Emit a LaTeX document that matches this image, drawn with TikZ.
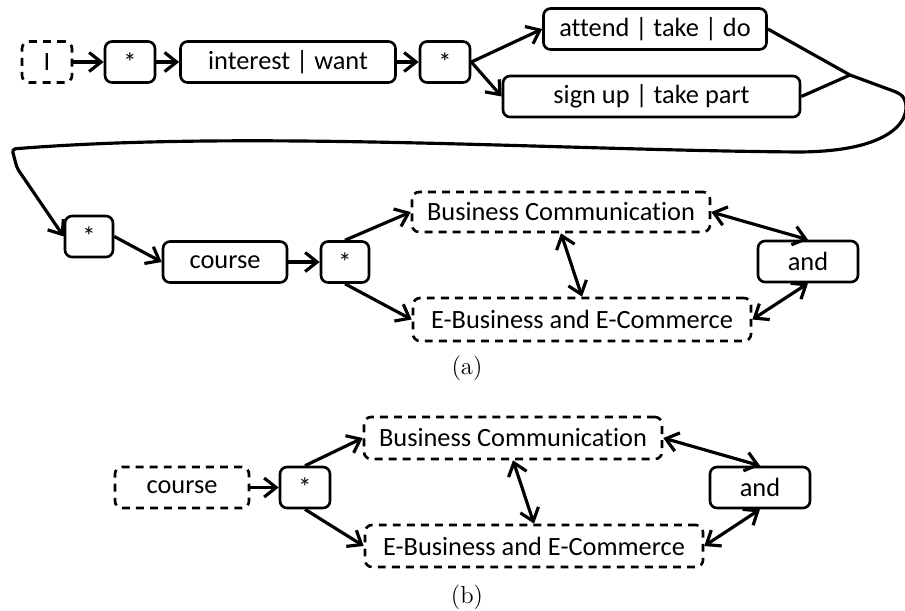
\documentclass[tikz,border=0pt]{standalone}
\usepackage{fontspec}
\usepackage{tikz}
\usetikzlibrary{arrows.meta, positioning}
\newfontfamily\carlito{Carlito}[Ligatures={NoCommon}]

\begin{document}
\begin{tikzpicture}[
  every node/.style={font=\carlito\fontsize{15}{18}\selectfont},
  wordbox/.style={rectangle, rounded corners=4pt, draw, line width=1.5pt, minimum width=#1, minimum height=8.2mm, inner sep=1pt, align=center},
  optbox/.style={wordbox=#1, dash pattern=on 4.5pt off 3.5pt},
  link/.style={line width=1.8pt, -{Straight Barb[length=2.4mm, width=3.8mm]}},
  twolink/.style={line width=1.8pt, {Straight Barb[length=2.4mm, width=3.8mm]}-{Straight Barb[length=2.4mm, width=3.8mm]}},
]
\useasboundingbox (0, 0) rectangle (18.1, -12.2);

% (a) first row
\node[optbox=10mm] (i) at (0.94, -1.24) {I};
\node[wordbox=10mm] (s1) at (2.6, -1.24) {*};
\node[wordbox=43mm] (want) at (5.76, -1.24) {interest | want};
\node[wordbox=10mm] (s2) at (8.9, -1.24) {*};
\node[wordbox=44.6mm] (take) at (13.1, -0.58) {attend | take | do};
\node[wordbox=59.4mm] (part) at (13.03, -1.93) {sign up | take part};
\coordinate (join) at (17.0, -1.5);

\draw[link] (i) -- (s1);
\draw[link] (s1) -- (want);
\draw[link] (want) -- (s2);
\draw[link] (s2.east) -- (take.west);
\draw[link] (s2.east) -- (part.west);
\draw[line width=1.8pt] (take.east) -- (join);
\draw[line width=1.8pt] (part.east) -- (join);

% (a) second row
\node[wordbox=9.6mm] (s3) at (1.78, -4.73) {*};
\node[wordbox=24.8mm] (course) at (4.5, -5.24) {course};
\node[wordbox=9.6mm] (s4) at (6.9, -5.24) {*};
\node[optbox=59.6mm, minimum height=8mm] (bca) at (11.22, -4.24) {Business Communication};
\node[optbox=67.6mm, minimum height=8.6mm] (eba) at (11.64, -6.39) {E-Business and E-Commerce};
\node[wordbox=20mm] (anda) at (16.16, -5.23) {and};

% Wrap-around connector
\draw[link, rounded corners=2pt] (join) -- (17.95, -1.85) .. controls (18.25, -2.05) and (18.3, -3.0) .. (16.0, -3.04) .. controls (11, -3.0) and (5, -2.6) .. (0.24, -2.98) -- (0.34, -3.36) -- (s3.west);

\draw[link] (s3.east) -- (course.west);
\draw[link] (course) -- (s4);
\draw[link] (s4.north) -- (bca.west);
\draw[link] (s4.south) -- (eba.west);
\draw[twolink] (bca.south) -- (eba.north);
\draw[twolink] (bca.east) -- (anda.north);
\draw[twolink] (eba.east) -- (anda.south);

\node[font=\fontsize{14}{16}\selectfont] (capa) at (9.34, -7.36) {(a)};

% (b)
\node[optbox=26.8mm] (courseb) at (3.64, -9.75) {course};
\node[wordbox=10mm] (sb) at (6.1, -9.75) {*};
\node[optbox=59.6mm, minimum height=8.4mm] (bcb) at (10.26, -8.76) {Business Communication};
\node[optbox=67.6mm, minimum height=8.4mm] (ebb) at (10.68, -10.92) {E-Business and E-Commerce};
\node[wordbox=20mm] (andb) at (15.2, -9.75) {and};

\draw[link] (courseb) -- (sb);
\draw[link] (sb.north) -- (bcb.west);
\draw[link] (sb.south) -- (ebb.west);
\draw[twolink] (bcb.south) -- (ebb.north);
\draw[twolink] (bcb.east) -- (andb.north);
\draw[twolink] (ebb.east) -- (andb.south);

\node[font=\fontsize{14}{16}\selectfont] (capb) at (9.34, -11.94) {(b)};

\end{tikzpicture}
\end{document}
